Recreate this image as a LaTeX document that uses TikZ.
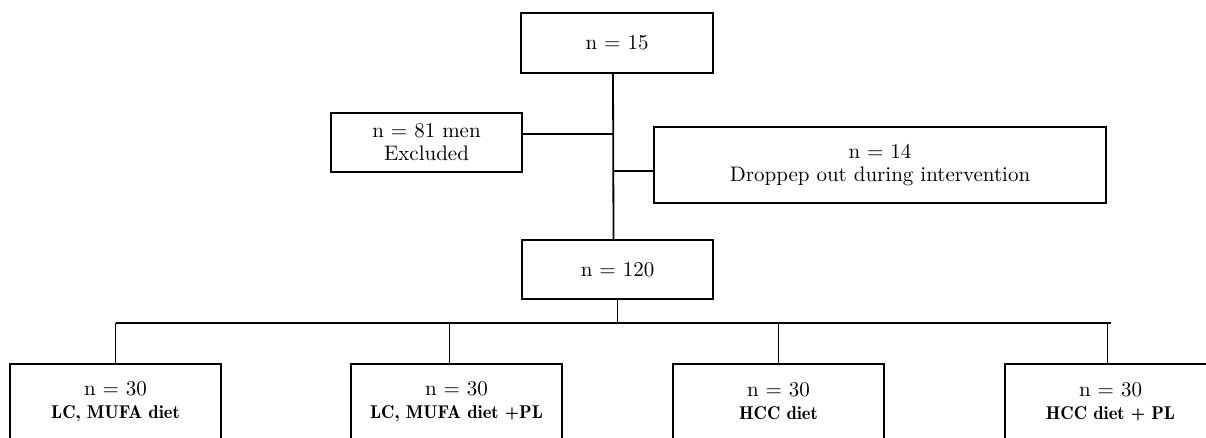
\documentclass[tikz,border=0pt]{standalone}
\usepackage{fontspec}
\setmainfont{lmroman10-regular.otf}[BoldFont=lmromandemi10-regular.otf]
\usepackage{tikz}
\tikzset{
  box/.style={draw, line width=1.8pt, align=center, inner sep=0pt,
    font=\fontsize{21}{23}\selectfont},
  link/.style={line width=1.8pt},
}
\newcommand{\dietname}[1]{{\bfseries\fontsize{18.5}{23}\selectfont #1}}

\begin{document}
\begin{tikzpicture}[x=1pt, y=-1pt]
\useasboundingbox (0,0) rectangle (1206,437);

  % main trunk
  \node[box, minimum width=192, minimum height=60] (n15) at (617,43) {n = 15};
  \node[box, minimum width=191, minimum height=59] (excl) at (426.5,142.5) {n = 81 men\\ Excluded};
  \node[box, minimum width=452, minimum height=76] (drop) at (880,165) {n = 14\\ Droppep out during intervention};
  \node[box, minimum width=191, minimum height=59] (n120) at (617.5,269.5) {n = 120};

  % the four diet groups
  \node[box, minimum width=211, minimum height=75] (g1) at (115.5,401.5) {n = 30\\ \dietname{LC, MUFA diet}};
  \node[box, minimum width=211, minimum height=75] (g2) at (456.5,401.5) {n = 30\\ \dietname{LC, MUFA diet +PL}};
  \node[box, minimum width=211, minimum height=75] (g3) at (778.5,401.5) {n = 30\\ \dietname{HCC diet}};
  \node[box, minimum width=211, minimum height=75] (g4) at (1110.5,401.5) {n = 30\\ \dietname{HCC diet + PL}};

  \coordinate (t1) at (613,134);
  \coordinate (t2) at (613,171);
  \coordinate (bus) at (0,323);

  \draw[link] ([xshift=-4]n15.south) -- ([xshift=-4]n120.north);
  \draw[link] (excl.east |- t1) -- (t1);
  \draw[link] (t2) -- (drop.west |- t2);
  \draw[link] (n120.south) -- (n120.south |- bus);
  \draw[link] (g1.north |- bus) -- (g4.north |- bus);
  \foreach \g/\dx in {g1/0, g2/-7, g3/0, g4/-3}
    \draw[link] ([xshift=\dx]\g.north) -- ([xshift=\dx]\g.north |- bus);

\end{tikzpicture}
\end{document}
